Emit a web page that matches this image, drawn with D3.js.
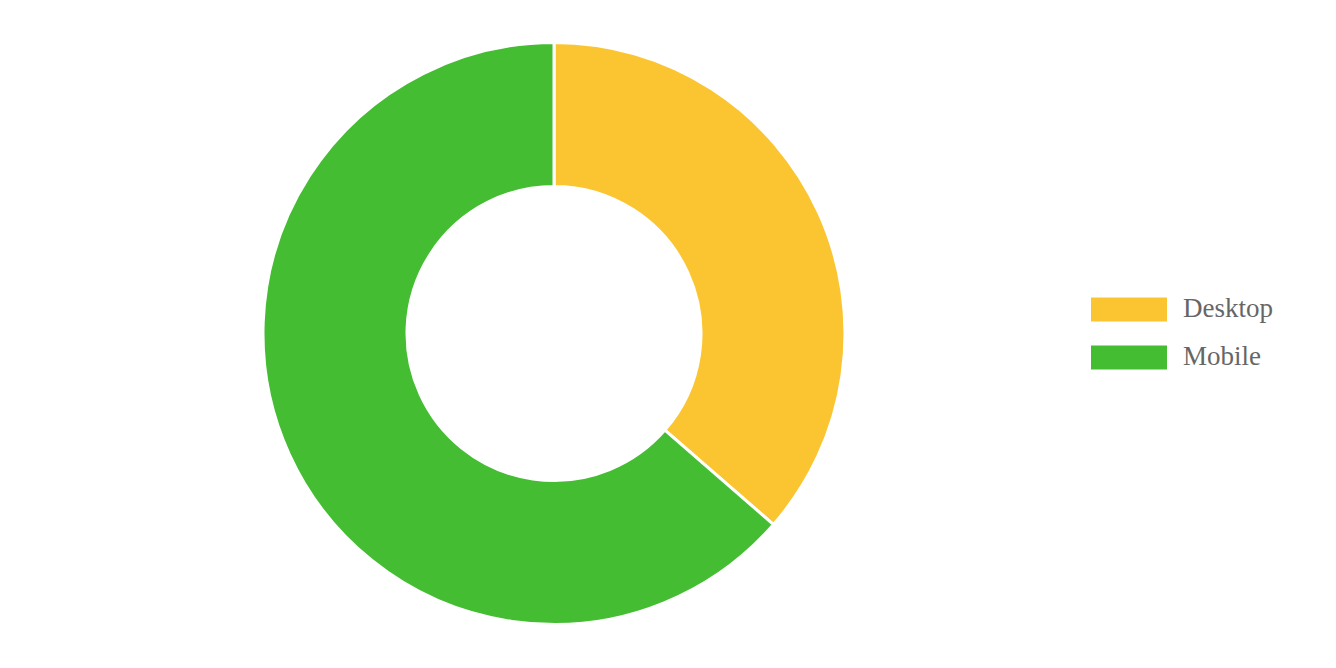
<!DOCTYPE html>
<html>
<head>
<meta charset="utf-8">
<script src="https://cdn.jsdelivr.net/npm/d3@7"></script>
<style>
  html, body { margin: 0; padding: 0; background: #fff; }
  svg { display: block; }
</style>
</head>
<body>
<div id="ch"></div>
<script>
// Donut chart - Desktop vs Mobile

const labels = ["Desktop", "Mobile"];
const values = [36.4, 63.6];
const colors = ["#fbc531", "#44bd32"];

const width = 1336;
const height = 668;

const cx = 554;
const cy = 333.5;
const outerR = 291;
const innerR = 147;

const svg = d3
  .select("#ch")
  .append("svg")
  .attr("width", width)
  .attr("height", height);

const color = d3.scaleOrdinal().domain(labels).range(colors);

const pie = d3.pie().sort(null).value((d, i) => values[i]);
const arc = d3.arc().innerRadius(innerR).outerRadius(outerR);

/* Slices */
svg
  .append("g")
  .attr("transform", `translate(${cx},${cy})`)
  .selectAll("path")
  .data(pie(labels))
  .enter()
  .append("path")
  .attr("d", arc)
  .style("fill", (d) => color(d.data))
  .style("stroke", "#fff")
  .style("stroke-width", 3);

/* Legend */
const legY = d3.scaleBand().domain(labels).range([297.5, 393.5]).paddingInner(0);

const leg = svg
  .append("g")
  .selectAll("g")
  .data(labels)
  .enter()
  .append("g")
  .attr("transform", (d) => `translate(1091,${legY(d)})`);

leg
  .append("rect")
  .attr("width", 76)
  .attr("height", 24)
  .style("fill", (d) => color(d));

leg
  .append("text")
  .attr("x", 92)
  .attr("y", 19)
  .text((d) => d)
  .style("font-family", "'Liberation Serif', 'Times New Roman', serif")
  .style("font-size", "27px")
  .style("fill", "#666");
</script>
</body>
</html>
